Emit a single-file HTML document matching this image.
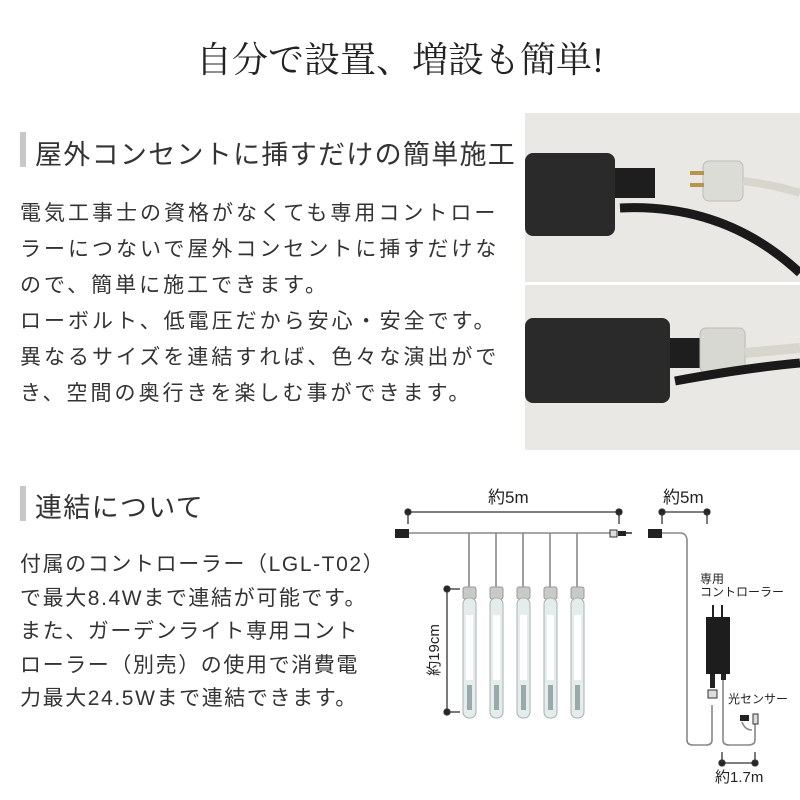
<!DOCTYPE html>
<html><head><meta charset="utf-8"><style>
body{margin:0;width:800px;height:800px;background:#fff;position:relative;overflow:hidden;font-family:"Liberation Sans","Noto Sans CJK JP",sans-serif;color:#222}
.t{position:absolute;white-space:nowrap}
.title{left:0;width:800px;text-align:center;top:32px;font-family:"Liberation Serif","Noto Serif CJK SC",serif;font-size:36px;color:#222}
.h{font-size:27px;letter-spacing:1.3px;color:#333}
.bar{position:absolute;width:6px;background:#c8c8c8}
.p{left:20px;font-size:21px;letter-spacing:3px;line-height:36px;color:#333}
.p2{left:20px;font-size:21px;letter-spacing:1.6px;line-height:33.5px;color:#333}
</style></head><body>
<div class="t title">自分で設置、増設も簡単!</div>
<div class="bar" style="left:20px;top:132px;height:35px"></div>
<div class="t h" style="left:35px;top:133px">屋外コンセントに挿すだけの簡単施工</div>
<div class="t p" style="top:196px">電気工事士の資格がなくても専用コントロー<br>ラーにつないで屋外コンセントに挿すだけな<br>ので、簡単に施工できます。<br>ローボルト、低電圧だから安心・安全です。<br>異なるサイズを連結すれば、色々な演出がで<br>き、空間の奥行きを楽しむ事ができます。</div>

<svg style="position:absolute;left:525px;top:113px" width="275" height="337" viewBox="0 0 275 337">
<rect width="275" height="337" fill="#e9e8e4"/>
<rect y="169" width="275" height="3" fill="#fff"/>
<rect x="0" y="40" width="90" height="83" rx="8" fill="#2a2a2a"/>
<rect x="90" y="55" width="40" height="30" fill="#1e1e1e"/>
<path d="M95 95 Q200 90 275 160" stroke="#1a1a1a" stroke-width="9" fill="none"/>
<rect x="178" y="48" width="40" height="40" rx="6" fill="#dcdcd6" stroke="#bbb"/>
<rect x="165" y="58" width="14" height="4" fill="#b8954a"/><rect x="165" y="70" width="14" height="4" fill="#b8954a"/>
<path d="M218 68 Q250 72 275 80" stroke="#d8d6cc" stroke-width="8" fill="none"/>
<rect x="0" y="205" width="145" height="85" rx="8" fill="#2a2a2a"/>
<rect x="145" y="225" width="40" height="30" fill="#1e1e1e"/>
<rect x="175" y="215" width="45" height="45" rx="6" fill="#d8d8d2" stroke="#bbb"/>
<path d="M220 240 L275 235" stroke="#d8d6cc" stroke-width="10"/>
<path d="M150 268 Q220 255 275 250" stroke="#1a1a1a" stroke-width="9" fill="none"/>
</svg>

<div class="bar" style="left:20px;top:486px;height:35px"></div>
<div class="t h" style="left:35px;top:486px">連結について</div>
<div class="t p2" style="top:548px">付属のコントローラー（LGL-T02）<br>で最大8.4Wまで連結が可能です。<br>また、ガーデンライト専用コント<br>ローラー（別売）の使用で消費電<br>力最大24.5Wまで連結できます。</div>

<svg style="position:absolute;left:0;top:0" width="800" height="800" font-family="Liberation Sans,Noto Sans CJK JP,sans-serif">
<g stroke="#333" stroke-width="1.3" fill="#222">
<line x1="408" y1="512" x2="619" y2="512"/><circle cx="408" cy="512" r="3"/><circle cx="619" cy="512" r="3"/>
<line x1="408" y1="512" x2="408" y2="524"/><line x1="619" y1="512" x2="619" y2="524"/>
<line x1="662" y1="512" x2="707" y2="512"/><circle cx="662" cy="512" r="3"/><circle cx="707" cy="512" r="3"/>
<line x1="662" y1="512" x2="662" y2="524"/><line x1="707" y1="512" x2="707" y2="524"/>
<line x1="447" y1="589" x2="447" y2="712"/><circle cx="447" cy="589" r="3"/><circle cx="447" cy="712" r="3"/>
<line x1="447" y1="589" x2="460" y2="589"/><line x1="447" y1="712" x2="460" y2="712"/>
<line x1="722" y1="763" x2="755" y2="763"/><circle cx="722" cy="763" r="3"/><circle cx="755" cy="763" r="3"/>
<line x1="722" y1="752" x2="722" y2="763"/><line x1="755" y1="752" x2="755" y2="763"/>
</g>
<g fill="none" stroke="#888" stroke-width="1.6">
<line x1="408" y1="533" x2="612" y2="533"/>
<line x1="469" y1="533" x2="469" y2="588"/><line x1="496" y1="533" x2="496" y2="588"/><line x1="523" y1="533" x2="523" y2="588"/><line x1="550" y1="533" x2="550" y2="588"/><line x1="577" y1="533" x2="577" y2="588"/>
<path d="M662 533 L680 533 Q687 533 687 541 L687 740 Q687 745 693 745 L706 745 Q712 745 712 740 L712 705"/>
<path d="M723 676 L723 740 Q723 745 729 745 L748 745 Q755 745 755 740 L755 718"/>
<path d="M742 722 Q745 730 752 730"/>
</g>
<rect x="395" y="529" width="14" height="9" fill="#222"/>
<rect x="648" y="529" width="14" height="9" fill="#222"/>
<rect x="610" y="530" width="7" height="7" fill="#ddd" stroke="#333"/>
<rect x="618" y="531" width="8" height="5" fill="#222"/><line x1="626" y1="533" x2="632" y2="533" stroke="#222" stroke-width="1.5"/>
<g id="tb">
<rect x="463" y="587" width="13" height="12" rx="2" fill="#c8cac8" stroke="#999"/>
<rect x="463" y="598" width="13" height="120" rx="6" fill="#e4ecec" stroke="#a8b0b0"/>
<rect x="466" y="615" width="7" height="65" fill="#fff"/>
<rect x="467" y="685" width="5" height="25" fill="#9aa"/>
</g>
<use href="#tb" x="27"/><use href="#tb" x="54"/><use href="#tb" x="81"/><use href="#tb" x="108"/>
<rect x="706" y="617" width="24" height="57" fill="#1d1d1d"/>
<rect x="712" y="605" width="2" height="12" fill="#222"/><rect x="721" y="605" width="2" height="12" fill="#222"/>
<rect x="710" y="674" width="5" height="14" fill="#222"/><rect x="721" y="674" width="5" height="6" fill="#222"/>
<rect x="708" y="690" width="9" height="8" fill="#ddd" stroke="#333"/>
<rect x="740" y="715" width="9" height="6" fill="#222"/><rect x="753" y="714" width="5" height="10" fill="#ddd" stroke="#333"/>
<g fill="#222" font-size="17">
<text x="488" y="503">約5m</text>
<text x="663" y="503">約5m</text>
<text x="715" y="782" font-size="15">約1.7m</text>
<text font-size="15" transform="translate(439,650) rotate(-90)" text-anchor="middle">約19cm</text>
<text x="700" y="583" font-size="12">専用</text>
<text x="700" y="596" font-size="12">コントローラー</text>
<text x="728" y="703" font-size="12">光センサー</text>
</g>
</svg>
</body></html>
